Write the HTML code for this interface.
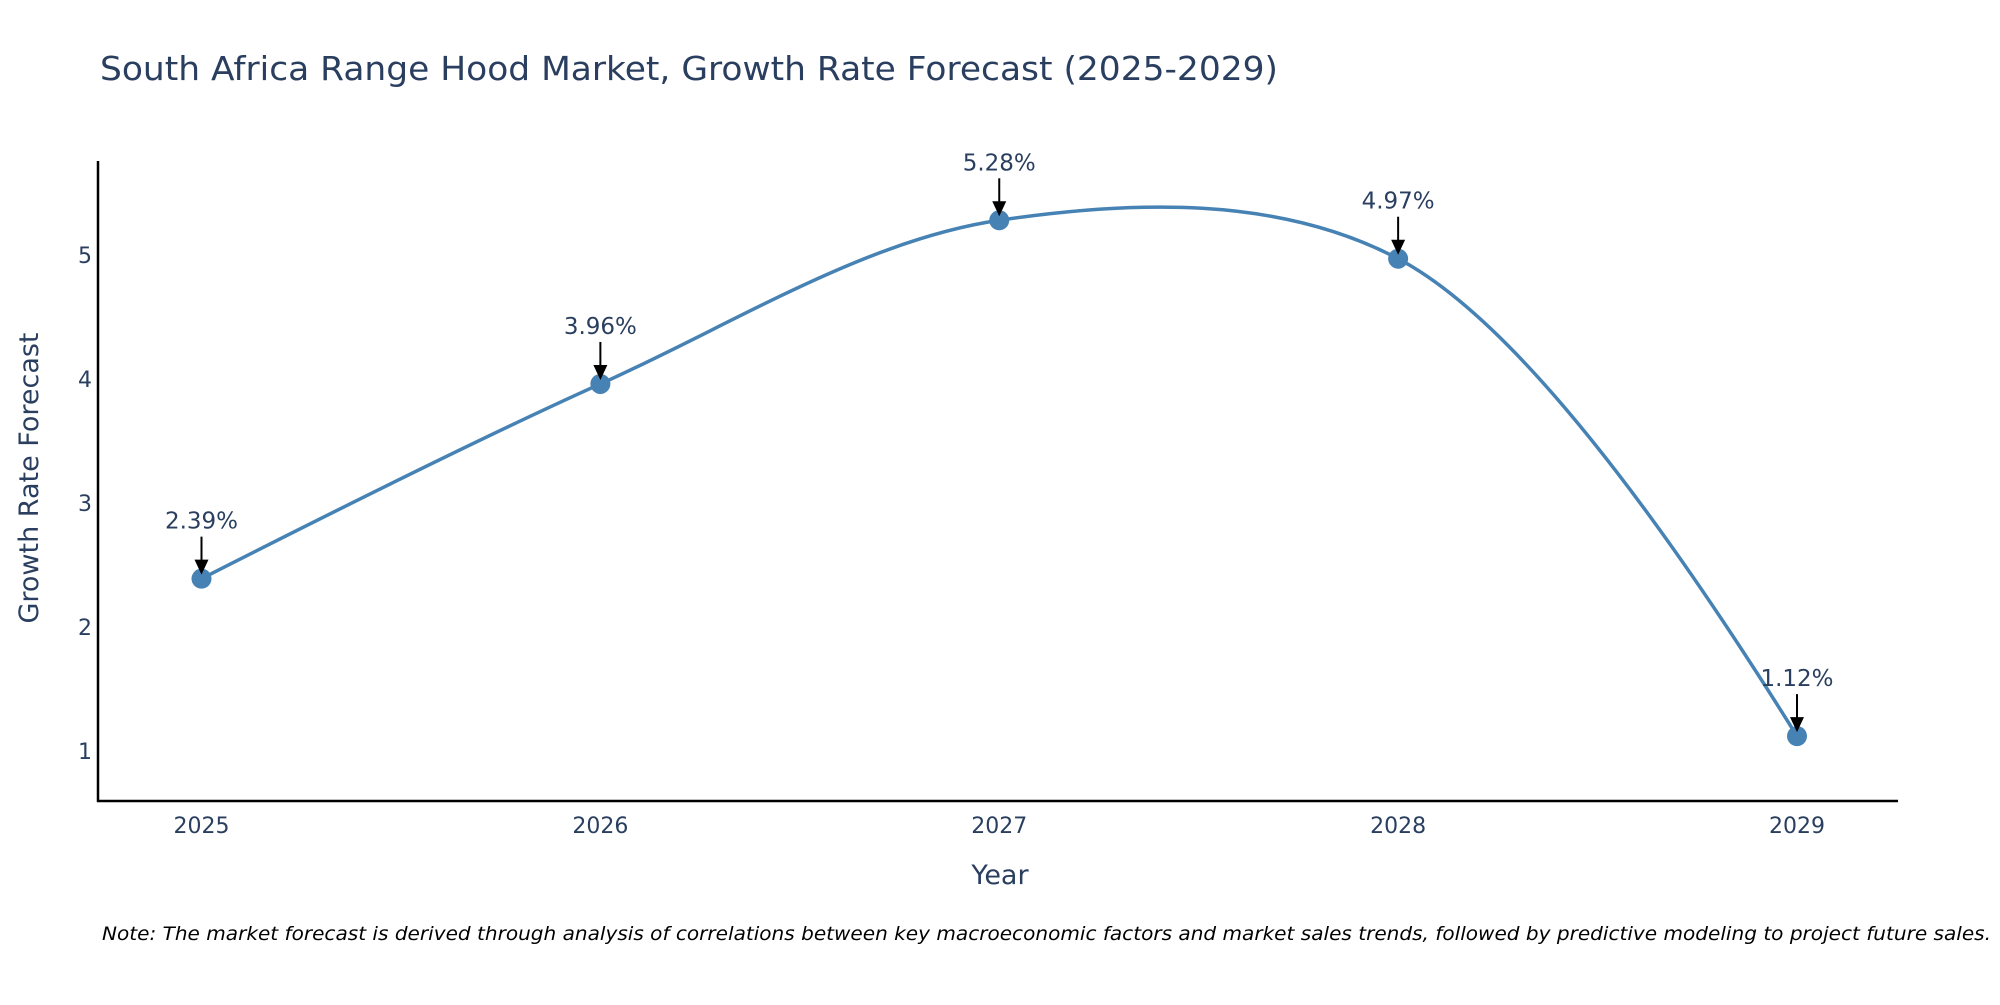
<!DOCTYPE html>
<html><head><meta charset="utf-8"><style>
body{margin:0;background:#fff;}
svg text{font-family:"DejaVu Sans","Liberation Sans",sans-serif;}
</style></head><body>
<svg id="chart" width="2000" height="1000" viewBox="0 0 2000 1000" xmlns="http://www.w3.org/2000/svg">
<text x="100" y="80" font-size="33" fill="#2a3f5f" textLength="1178" lengthAdjust="spacingAndGlyphs">South Africa Range Hood Market, Growth Rate Forecast (2025-2029)</text>
<g id="axes"></g>
<g id="marks"></g>
<text transform="translate(38,478) rotate(-90)" text-anchor="middle" font-size="27" fill="#2a3f5f">Growth Rate Forecast</text>
<text x="1000" y="884" text-anchor="middle" font-size="27" fill="#2a3f5f">Year</text>
<text x="102" y="940" font-size="19" font-style="italic" fill="#000" textLength="1889" lengthAdjust="spacingAndGlyphs">Note: The market forecast is derived through analysis of correlations between key macroeconomic factors and market sales trends, followed by predictive modeling to project future sales.</text>
</svg>
<script>
const categories = [2025, 2026, 2027, 2028, 2029];
const values = [2.39, 3.96, 5.28, 4.97, 1.12];
const valueLabels = ["2.39%", "3.96%", "5.28%", "4.97%", "1.12%"];
const yTicks = [1, 2, 3, 4, 5];

const NS = "http://www.w3.org/2000/svg";
const X0 = 98, X1 = 1898, Y0 = 161, Y1 = 801;
function xScale(i){ return 201.5 + (1797 - 201.5) * i / (categories.length - 1); }
function yScale(v){ return 751 - (v - 1) * 124; }
function mk(tag, attrs, parent){ const e = document.createElementNS(NS, tag); for (const k in attrs) e.setAttribute(k, attrs[k]); parent.appendChild(e); return e; }
const axes = document.getElementById('axes'), marks = document.getElementById('marks');

const yl = mk('line', {x1:X0, y1:Y0, x2:X0, y2:Y1+1, stroke:'#000', 'stroke-width':2.5}, axes);


const xl = mk('line', {x1:X0-1, y1:Y1, x2:X1, y2:Y1, stroke:'#000', 'stroke-width':2.5}, axes);



yTicks.forEach(t => {
  const tx = mk('text', {x:92, y:yScale(t)+8, 'text-anchor':'end', 'font-size':22, fill:'#2a3f5f'}, axes);
  tx.textContent = t;
  
  
});
categories.forEach((c, i) => {
  const tx = mk('text', {x:xScale(i), y:833, 'text-anchor':'middle', 'font-size':22, fill:'#2a3f5f'}, axes);
  tx.textContent = c;
  
  
});

const pts = values.map((v, i) => [xScale(i), yScale(v)]);
function tangent(p, t, n, s){
  const d1x=p[0]-t[0], d1y=p[1]-t[1], d2x=n[0]-t[0], d2y=n[1]-t[1];
  const d1a=Math.pow(d1x*d1x+d1y*d1y,0.25), d2a=Math.pow(d2x*d2x+d2y*d2y,0.25);
  const numx=(d2a*d2a*d1x-d1a*d1a*d2x)*s, numy=(d2a*d2a*d1y-d1a*d1a*d2y)*s;
  const den1=3*d2a*(d1a+d2a), den2=3*d1a*(d1a+d2a);
  return [[t[0]+numx/den1, t[1]+numy/den1],[t[0]-numx/den2, t[1]-numy/den2]];
}
const tg = [];
for (let i = 1; i < pts.length - 1; i++) tg.push(tangent(pts[i-1], pts[i], pts[i+1], 1));
let d = 'M' + pts[0] + ' Q' + tg[0][0] + ' ' + pts[1];
for (let i = 2; i < pts.length - 1; i++) d += ' C' + tg[i-2][1] + ' ' + tg[i-1][0] + ' ' + pts[i];
d += ' Q' + tg[tg.length-1][1] + ' ' + pts[pts.length-1];
const line = mk('path', {d:d, fill:'none', stroke:'#4682b4', 'stroke-width':3.5}, marks);



pts.forEach((p, i) => {
  const c = mk('circle', {cx:p[0], cy:p[1], r:10, fill:'#4682b4'}, marks);
  
  
  const a = mk('line', {x1:p[0], y1:p[1]-42, x2:p[0], y2:p[1]-18, stroke:'#000', 'stroke-width':2}, marks);
  
  
  const h = mk('polygon', {points:(p[0]-7)+','+(p[1]-19)+' '+(p[0]+7)+','+(p[1]-19)+' '+p[0]+','+(p[1]-4), fill:'#000'}, marks);
  
  
  const t = mk('text', {x:p[0], y:p[1]-50, 'text-anchor':'middle', 'font-size':23, fill:'#2a3f5f'}, marks);
  t.textContent = valueLabels[i];
  
  
});
</script>
</body></html>
